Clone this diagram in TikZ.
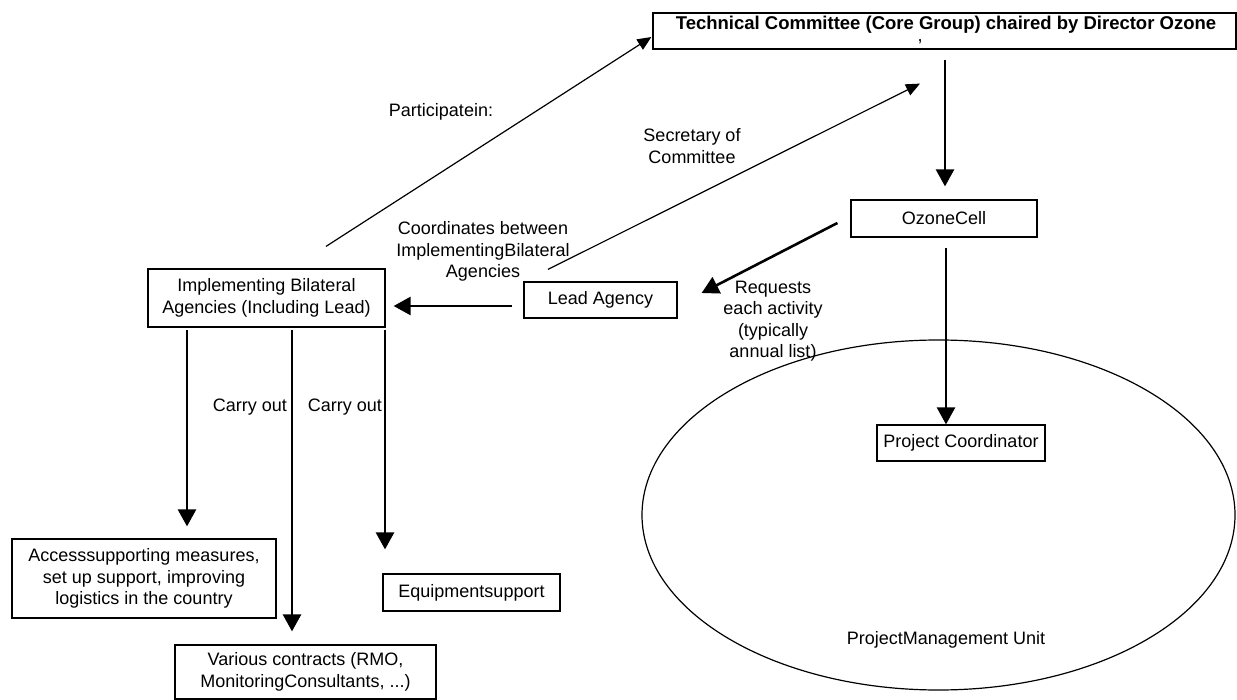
\documentclass[tikz,border=0pt]{standalone}
\usepackage{fontspec}
\setmainfont{Liberation Sans}
\usetikzlibrary{arrows.meta,shapes.geometric}
\begin{document}
\begin{tikzpicture}[x=1pt,y=-1pt,
  txt/.style={font=\fontsize{18}{21.5}\selectfont},
  box/.style={draw, line width=1.2pt, inner sep=0pt, align=center, txt},
  lbl/.style={align=center, inner sep=0pt, txt},
  thickarrow/.style={line width=2.6pt, -{Triangle[length=17pt,width=18pt]}},
  thinarrow/.style={line width=1.2pt, -{Triangle[length=14pt,width=12pt]}}]
\useasboundingbox (0,0) rectangle (1237,700);

% boxes
\node[box, minimum width=583pt, minimum height=36pt] (tc) at (944.5,31) {};
\node[lbl, font=\fontsize{18.5}{22}\selectfont\bfseries] (tct) at (946,25) {Technical Committee (Core Group) chaired by Director Ozone};
\node[lbl] (tcc) at (920,42) {,};
\node[box, minimum width=186pt, minimum height=37pt] (oz) at (944,218.5) {OzoneCell};
\node[box, minimum width=153pt, minimum height=36pt] (lead) at (600.5,300) {Lead Agency};
\node[box, minimum width=237pt, minimum height=58pt] (impl) at (266.5,298) {Implementing Bilateral\\Agencies (Including Lead)};
\node[box, minimum width=264pt, minimum height=79pt] (access) at (144,578.5) {Accesssupporting measures,\\set up support, improving\\logistics in the country};
\node[box, minimum width=177pt, minimum height=37pt] (equip) at (471.5,592.5) {Equipmentsupport};
\node[box, minimum width=261pt, minimum height=54pt] (various) at (305.5,672) {Various contracts (RMO,\\MonitoringConsultants, ...)};
\node[draw, line width=1.2pt, ellipse, inner sep=0pt, minimum width=593pt, minimum height=350pt] (pmu) at (938.5,515) {};
\node[box, minimum width=168pt, minimum height=36pt] (pc) at (961,443) {Project Coordinator};

% labels
\node[lbl] (part) at (441,112) {Participatein:};
\node[lbl] (sec) at (692,146) {Secretary of\\Committee};
\node[lbl] (coord) at (483,251.5) {Coordinates between\\ImplementingBilateral\\Agencies};
\node[lbl] (req) at (773,321) {Requests\\each activity\\(typically\\annual list)};
\node[lbl] (carry1) at (250,407) {Carry out};
\node[lbl] (carry2) at (345,407) {Carry out};
\node[lbl] (pmut) at (946,640) {ProjectManagement Unit};

% connectors
\draw[thickarrow] ([xshift=0.5pt,yshift=-10pt]tc.south) -- ([xshift=1pt,yshift=13pt]oz.north);
\draw[thickarrow] ([xshift=2pt,yshift=-10pt]oz.south) -- ([xshift=-15pt]pc.north);
\draw[thickarrow] ([xshift=-13pt,yshift=-4.5pt]oz.west) -- ([xshift=24pt,yshift=7pt]lead.east);
\draw[thickarrow] ([xshift=-11pt,yshift=-6pt]lead.west) -- ([xshift=8pt,yshift=-8pt]impl.east);
\draw[thinarrow] ([xshift=-52.5pt,yshift=12pt]lead.north) -- ([xshift=-24.5pt,yshift=-34pt]tc.south);
\draw[thinarrow] ([xshift=59.5pt,yshift=22pt]impl.north) -- ([xshift=-1pt,yshift=-6pt]tc.west);
\draw[thickarrow] ([xshift=-79.5pt,yshift=-2pt]impl.south) -- ([xshift=43pt,yshift=12pt]access.north);
\draw[thickarrow] ([xshift=25.5pt,yshift=-2pt]impl.south) -- ([xshift=-13.5pt,yshift=13pt]various.north);
\draw[thickarrow] ([xshift=118.5pt,yshift=-2pt]impl.south) -- ([xshift=-86.5pt,yshift=24pt]equip.north);
\end{tikzpicture}
\end{document}
